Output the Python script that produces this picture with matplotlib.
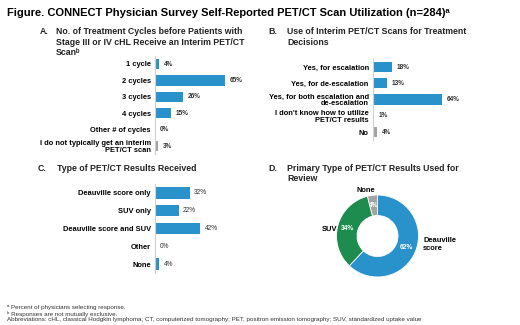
import matplotlib
matplotlib.use("Agg")
import matplotlib.pyplot as plt

plt.rcParams['font.family'] = ['Liberation Sans', 'DejaVu Sans']

W, H = 520, 325
BLUE = '#2a92cb'
GREEN = '#1e8c4e'
GRAY = '#a3a3a3'

# Panel A
a_labels = ['1 cycle', '2 cycles', '3 cycles', '4 cycles', 'Other # of cycles',
            'I do not typically get an interim\nPET/CT scan']
a_values = [4, 65, 26, 15, 0, 3]
a_colors = [BLUE, BLUE, BLUE, BLUE, BLUE, GRAY]

# Panel B
b_labels = ['Yes, for escalation', 'Yes, for de-escalation',
            'Yes, for both escalation and\nde-escalation',
            "I don't know how to utilize\nPET/CT results", 'No']
b_values = [18, 13, 64, 1, 4]
b_colors = [BLUE, BLUE, BLUE, BLUE, GRAY]

# Panel C
c_labels = ['Deauville score only', 'SUV only', 'Deauville score and SUV', 'Other', 'None']
c_values = [32, 22, 42, 0, 4]

# Panel D
d_labels = ['None', 'SUV', 'Deauville\nscore']
d_values = [4, 34, 62]
d_colors = [GRAY, GREEN, BLUE]


def px(x, y, w, h):
    return [x / W, 1 - (y + h) / H, w / W, h / H]


fig = plt.figure(figsize=(W / 100, H / 100), dpi=100)


def bar_panel(rect, labels, values, colors, bold_vals=True):
    ax = fig.add_axes(rect)
    pos = list(range(len(values)))
    ax.barh(pos, values, height=0.64, color=colors)
    ax.set_xlim(0, 100)
    ax.set_ylim(len(values) - 0.5, -0.5)
    ax.set_yticks(pos)
    ax.set_yticklabels(labels, fontsize=5.4, fontweight='bold', linespacing=0.95)
    ax.tick_params(axis='y', length=0, pad=3)
    ax.set_xticks([])
    for s in ['top', 'right', 'bottom']:
        ax.spines[s].set_visible(False)
    ax.spines['left'].set_color('#d0d0d0')
    ax.spines['left'].set_linewidth(0.8)
    for p, v in zip(pos, values):
        ax.text(v + 4, p, f'{v}%', va='center', ha='left', fontsize=4.7,
                fontweight='bold' if bold_vals else 'normal', color='#333333')
    return ax


bar_panel(px(155, 55.8, 108, 98.4), a_labels, a_values, a_colors)
bar_panel(px(373, 58.9, 108, 81.3), b_labels, b_values, b_colors)
bar_panel(px(155, 184.1, 108, 88.8), c_labels, c_values, [BLUE] * 5, bold_vals=False)

# donut
r = 41
ax = fig.add_axes(px(377.5 - r, 236 - r, 2 * r, 2 * r))
wedges, texts, autotexts = ax.pie(
    d_values, labels=d_labels, colors=d_colors, startangle=90, counterclock=True,
    radius=1, labeldistance=1.2, pctdistance=0.75, autopct='%d%%',
    wedgeprops=dict(width=0.5, edgecolor='white', linewidth=0.6),
    textprops=dict(fontsize=5.4, fontweight='bold'))
for t in autotexts:
    t.set_color('white')
    t.set_fontsize(4.8)
texts[0].set_position((-0.28, 1.10))
texts[0].set_ha('center')
texts[1].set_position((-1.16, 0.15))
texts[1].set_ha('center')
texts[2].set_position((1.11, -0.21))
texts[2].set_ha('left')
texts[2].set_linespacing(1.25)
ax.set_xlim(-1, 1)
ax.set_ylim(-1, 1)
ax.set_aspect('equal')

# titles
fig.text(7 / W, 1 - 13 / H, 'Figure. CONNECT Physician Survey Self-Reported PET/CT Scan Utilization (n=284)ᵃ',
         fontsize=8.0, fontweight='bold', va='center', ha='left')

tfs = 6.3


def panel_title(xl, xt, y, letter, text):
    fig.text(xl / W, 1 - y / H, letter, fontsize=tfs, fontweight='bold', va='top', ha='left', color='#222222')
    fig.text(xt / W, 1 - y / H, text, fontsize=tfs, fontweight='bold', va='top', ha='left',
             color='#222222', linespacing=1.15)


panel_title(40, 56, 27.5, 'A.', 'No. of Treatment Cycles before Patients with\nStage III or IV cHL Receive an Interim PET/CT\nScanᵇ')
panel_title(268, 287, 27.5, 'B.', 'Use of Interim PET/CT Scans for Treatment\nDecisions')
panel_title(38, 57, 164, 'C.', 'Type of PET/CT Results Received')
panel_title(268, 287, 164, 'D.', 'Primary Type of PET/CT Results Used for\nReview')

# footnotes
notes = ['ᵃ Percent of physicians selecting response.',
         'ᵇ Responses are not mutually exclusive.',
         'Abbreviations: cHL, classical Hodgkin lymphoma; CT, computerized tomography; PET, positron emission tomography; SUV, standardized uptake value']
for i, n in enumerate(notes):
    fig.text(7 / W, 1 - (308 + 6 * i) / H, n, fontsize=4.5, va='center', ha='left', color='#333333')

fig.savefig('out.png', dpi=100)
